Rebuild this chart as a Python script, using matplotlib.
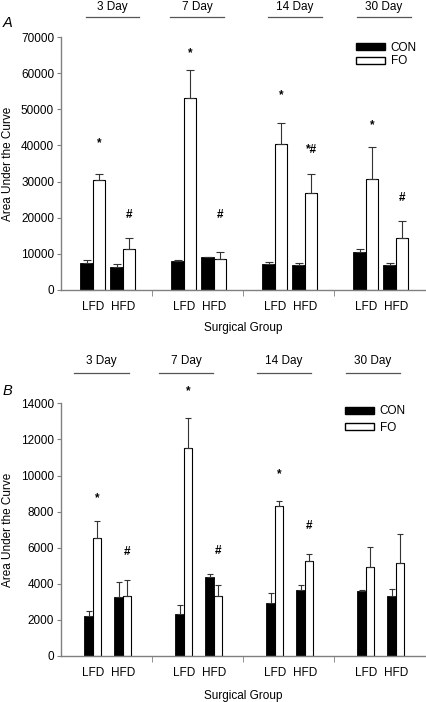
import numpy as np
import matplotlib
matplotlib.use("Agg")
import matplotlib.pyplot as plt
from matplotlib.patches import Patch
import matplotlib.transforms as mtransforms

plt.rcParams['font.family'] = ['Liberation Sans', 'DejaVu Sans']

days = ['3 Day', '7 Day', '14 Day', '30 Day']
diets = ['LFD', 'HFD']

# panel A: order per day = LFD, HFD
a_con = [[7600, 6400], [8000, 9100], [7200, 7000], [10400, 6900]]
a_con_err = [[600, 800], [300, 100], [600, 400], [900, 600]]
a_fo = [[30300, 11300], [53200, 8500], [40300, 26900], [30800, 14400]]
a_fo_err = [[1700, 3100], [7600, 2000], [5900, 5100], [8800, 4700]]
a_marks = [['*', '#'], ['*', '#'], ['*', '*#'], ['*', '#']]
a_mark_y = [[40500, 20700], [65400, 20700], [53800, 38800], [45500, 25500]]

# panel B
b_con = [[2200, 3260], [2350, 4350], [2960, 3630], [3610, 3330]]
b_con_err = [[280, 830], [450, 210], [520, 310], [60, 370]]
b_fo = [[6540, 3300], [11500, 3300], [8330, 5280], [4930, 5160]]
b_fo_err = [[940, 920], [1700, 660], [270, 370], [1110, 1600]]
b_marks = [['*', '#'], ['*', '#'], ['*', '#'], ['', '']]
b_mark_y = [[8760, 5760], [14650, 5800], [10060, 7190], [0, 0]]

fig = plt.figure(figsize=(4.26, 7.02), dpi=100)
W, H = 426.0, 702.0
FS = 8.5

def panel(rect, con, con_err, fo, fo_err, marks, mark_y, ymax, ystep, bw,
          cap, hdr_lines, hdr_txt_y, hdr_line_y, letter, letter_y, leg_anchor,
          xlab_y, leg_space):
    ax = fig.add_axes(rect)
    ax.set_xlim(0, 4)
    ax.set_ylim(0, ymax)
    offs = [0.35, 0.68]
    centers = []
    for i in range(4):
        for j in range(2):
            c = i + offs[j]
            centers.append(c)
            ax.bar(c - bw / 2, con[i][j], bw, color='black', edgecolor='black', lw=0.6)
            ax.bar(c + bw / 2, fo[i][j], bw, color='white', edgecolor='black', lw=0.8)
            ax.errorbar(c - bw / 2, con[i][j], yerr=[[0], [con_err[i][j]]],
                        color='#333333', capsize=cap, elinewidth=0.8, capthick=0.8)
            ax.errorbar(c + bw / 2, fo[i][j], yerr=[[0], [fo_err[i][j]]],
                        color='#333333', capsize=cap, elinewidth=0.8, capthick=0.8)
            if marks[i][j]:
                ax.text(c + bw / 2, mark_y[i][j], marks[i][j], ha='center',
                        va='center', fontsize=8.5, fontweight='bold')
    ax.set_xticks(centers)
    ax.set_xticklabels(diets * 4, fontsize=FS)
    ax.tick_params(axis='x', length=0, pad=8)
    ax.set_xticks([1, 2, 3], minor=True)
    ax.tick_params(axis='x', which='minor', length=4, direction='out',
                   color='#808080')
    ax.set_yticks(np.arange(0, ymax + 1, ystep))
    ax.tick_params(axis='y', labelsize=FS, length=3, color='#808080', pad=2)
    for s in ['top', 'right']:
        ax.spines[s].set_visible(False)
    for s in ['left', 'bottom']:
        ax.spines[s].set_color('#808080')
        ax.spines[s].set_linewidth(1.0)
    ax.set_ylabel('Area Under the Curve', fontsize=FS)
    ax.yaxis.set_label_coords(-0.128, 0.5)
    ax.set_xlabel('Surgical Group', fontsize=FS)
    ax.xaxis.set_label_coords(0.5, xlab_y)
    trans = mtransforms.blended_transform_factory(ax.transData, ax.transAxes)
    for k, (x0, x1) in enumerate(hdr_lines):
        ax.plot([x0, x1], [hdr_line_y, hdr_line_y], color='#555555', lw=0.9,
                transform=trans, clip_on=False)
        ax.text((x0 + x1) / 2, hdr_txt_y, days[k], ha='center', va='center',
                fontsize=FS, transform=trans)
    fig.text(0.006, 1 - letter_y / H, letter, fontsize=10.5, style='italic',
             va='center', ha='left')
    handles = [Patch(facecolor='black', edgecolor='black', label='CON'),
               Patch(facecolor='white', edgecolor='black', label='FO')]
    ax.legend(handles=handles, loc='upper right', bbox_to_anchor=leg_anchor,
              frameon=False, fontsize=FS, handlelength=2.4, handleheight=0.6,
              labelspacing=leg_space, handletextpad=0.5, borderaxespad=0)
    return ax

panel([61 / W, 1 - 290 / H, 364 / W, 253 / H], a_con, a_con_err, a_fo, a_fo_err,
      a_marks, a_mark_y, 70000, 10000, 0.137, 3.2,
      [(0.275, 0.857), (1.198, 1.79), (2.275, 2.868), (3.253, 3.846)],
      1.12, 1.079, 'A', 23, (0.99, 1.0), -0.125, 0.15)

panel([61 / W, 1 - 656 / H, 364 / W, 252.7 / H], b_con, b_con_err, b_fo, b_fo_err,
      b_marks, b_mark_y, 14000, 2000, 0.093, 2.0,
      [(0.143, 0.747), (1.077, 1.67), (2.154, 2.747), (3.132, 3.725)],
      1.168, 1.12, 'B', 391, (0.96, 1.01), -0.135, 0.35)

fig.savefig('out.png', dpi=100)
